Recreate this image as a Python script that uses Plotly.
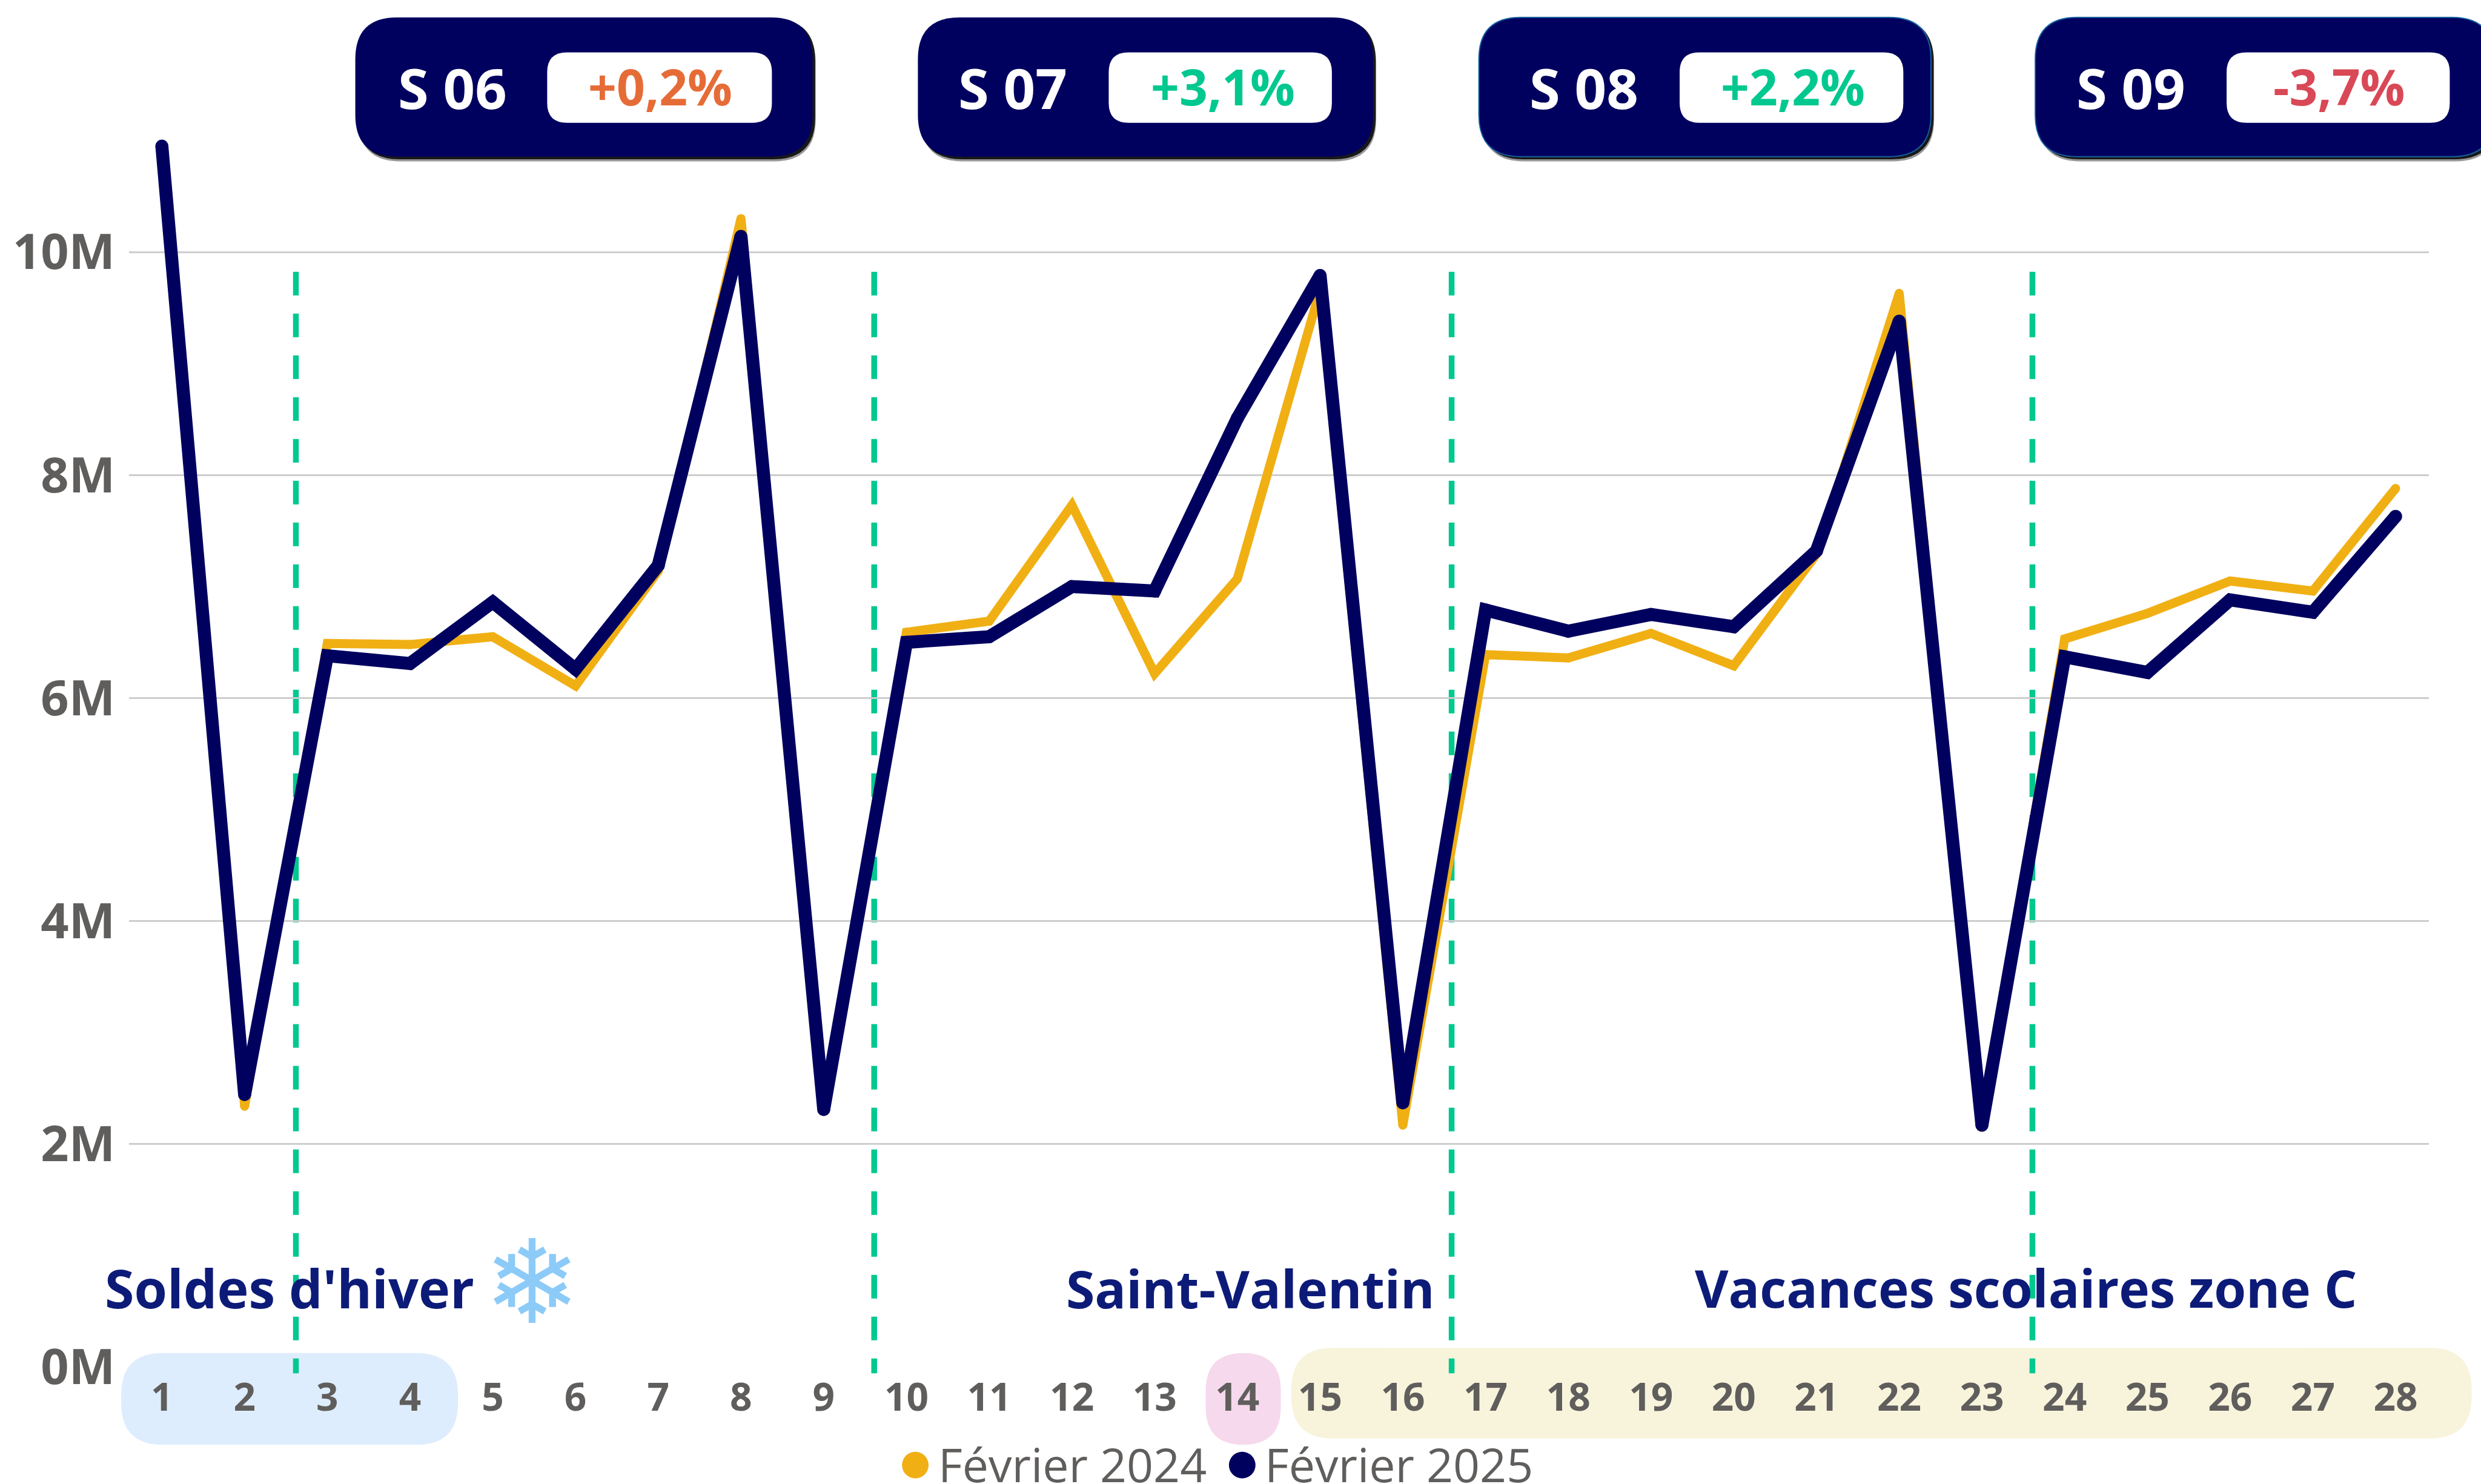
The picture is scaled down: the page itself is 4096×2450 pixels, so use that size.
import plotly.graph_objects as go

# ---- data ----
days = list(range(1, 29))
feb_2024 = [10.9, 2.34, 6.49, 6.48, 6.55, 6.11, 7.14, 10.3, 2.32, 6.59, 6.69, 7.73, 6.22, 7.07,
            9.66, 2.17, 6.39, 6.36, 6.58, 6.29, 7.29, 9.63, 2.15, 6.53, 6.76, 7.05, 6.96, 7.88]
feb_2025 = [10.95, 2.445, 6.38, 6.31, 6.86, 6.26, 7.19, 10.14, 2.31, 6.5, 6.55, 7.0, 6.96, 8.51,
            9.79, 2.37, 6.79, 6.6, 6.75, 6.64, 7.32, 9.38, 2.17, 6.37, 6.23, 6.88, 6.77, 7.63]
series_names = ["Février 2024", "Février 2025"]
y_ticks = [0, 2, 4, 6, 8, 10]
y_labels = ["0M", "2M", "4M", "6M", "8M", "10M"]
week_breaks = [2.62, 9.61, 16.59, 23.61]
week_labels = ["S 06", "S 07", "S 08", "S 09"]
week_deltas = ["+0,2%", "+3,1%", "+2,2%", "-3,7%"]
event_labels = ["Soldes d'hiver", "Saint-Valentin", "Vacances scolaires zone C"]

# ---- geometry (reference pixels, scaled to the window) ----
S = 4096 / 4758
W, H = 4096, 2450
REF_L, REF_R, REF_Y0, REF_PER_M = 247, 4658, 2622, 213.9
Y_MAX = 11.5
REF_T = REF_Y0 - Y_MAX * REF_PER_M
L, R, T, B = REF_L * S, REF_R * S, REF_T * S, REF_Y0 * S
X1, DX = 310, 158.67
x_lo = 1 - (X1 - REF_L) / DX
x_hi = 1 + (REF_R - X1) / DX


def px(x):
    return (x - REF_L) / (REF_R - REF_L)


def py(y):
    return (REF_Y0 - y) / (REF_Y0 - REF_T)


def rrect(x0, y0, x1, y1, r, fill, line=None, layer="above", opacity=1):
    r = min(r, (x1 - x0) / 2, (y1 - y0) / 2)
    p = lambda a, b: f"{px(a):.5f},{py(b):.5f}"
    path = (f"M {p(x0 + r, y0)} L {p(x1 - r, y0)} Q {p(x1, y0)} {p(x1, y0 + r)} "
            f"L {p(x1, y1 - r)} Q {p(x1, y1)} {p(x1 - r, y1)} L {p(x0 + r, y1)} "
            f"Q {p(x0, y1)} {p(x0, y1 - r)} L {p(x0, y0 + r)} Q {p(x0, y0)} {p(x0 + r, y0)} Z")
    return dict(type="path", xref="paper", yref="paper", path=path, fillcolor=fill, opacity=opacity,
                line=dict(color=line or fill, width=2 if line else 0), layer=layer)


NAVY, GOLD, GREY = "#00005F", "#F0B014", "#605E5C"
GREEN, ORANGE, RED = "#01C88F", "#E66C37", "#D94856"
LABEL = "#0D1B78"
FONT = "Open Sans"

shapes, ann = [], []


def text(t, x, y, size, color, weight=700, family=FONT):
    ann.append(dict(text=t, xref="paper", yref="paper", x=px(x), y=py(y), xanchor="center", yanchor="middle",
                    showarrow=False, font=dict(family=family, size=size, color=color, weight=weight)))


# bands behind the axis labels
shapes.append(rrect(232, 2595, 878, 2771, 80, "#DEEDFD", layer="below"))
shapes.append(rrect(2312, 2595, 2456, 2771, 72, "#F6D9EC", layer="below"))
shapes.append(rrect(2476, 2585, 4740, 2759, 80, "#F8F4DC", layer="below"))

# week separators
for b in week_breaks:
    shapes.append(dict(type="line", xref="x", yref="paper", x0=b, x1=b, y0=py(521), y1=py(2634),
                       line=dict(color=GREEN, width=9.5, dash="39px,30px"), layer="between"))

# week pills
pills = [(681, 1558, 1049, 1480, 867, 1266, ORANGE, None),
         (1760, 2633, 2126, 2554, 1942, 2345, GREEN, None),
         (2836, 3703, 3221, 3650, 3037, 3438, GREEN, "#15609F"),
         (3903, 4783, 4270, 4698, 4086, 4485, RED, "#15609F")]
for (x0, x1, ix0, ix1, tx, dx, col, edge), lab, delta in zip(pills, week_labels, week_deltas):
    shapes.append(rrect(x0 + 6, 40, x1 + 6, 309, 80, "#000000", opacity=0.4))
    shapes.append(rrect(x0 + 5, 36, x1 + 5, 305, 80, "#111111", opacity=0.95))
    shapes.append(rrect(x0, 33, x1, 300, 80, NAVY, line=edge))
    shapes.append(rrect(ix0, 100, ix1, 235, 38, "#FFFFFF"))
    text(lab, tx, 167, 92, "#FFFFFF")
    text(delta, dx, 165, 82, col)

# event labels
text(event_labels[0], 555, 2470, 88, LABEL)
text("\u2744", 1020, 2460, 192, "#8CCBF8", weight=400, family="DejaVu Sans")
text(event_labels[1], 2398, 2470, 86, LABEL)
text(event_labels[2], 3885, 2470, 85.5, LABEL)

# legend
for cx, tx, col, name in zip((1755, 2382), (2056, 2682), (GOLD, NAVY), series_names):
    shapes.append(dict(type="circle", xref="paper", yref="paper", x0=px(cx - 25.5), x1=px(cx + 25.5),
                       y0=py(2810 + 25.5), y1=py(2810 - 25.5), fillcolor=col, line=dict(width=0), layer="above"))
    text(name, tx, 2808, 77, GREY, weight=400)

fig = go.Figure()
# markers the width of the line give the round joins and end caps of the reference
fig.add_trace(go.Scatter(x=days, y=feb_2024, name=series_names[0], mode="lines+markers",
                         line=dict(color=GOLD, width=15), marker=dict(color=GOLD, size=15, line=dict(width=0)),
                         showlegend=False, cliponaxis=False))
fig.add_trace(go.Scatter(x=days, y=feb_2025, name=series_names[1], mode="lines+markers",
                         line=dict(color=NAVY, width=21.5), marker=dict(color=NAVY, size=21.5, line=dict(width=0)),
                         showlegend=False, cliponaxis=False))

fig.update_layout(
    width=W, height=H, autosize=False, paper_bgcolor="white", plot_bgcolor="rgba(0,0,0,0)",
    margin=dict(l=L, r=W - R, t=T, b=H - B, pad=0),
    showlegend=False, shapes=shapes, annotations=ann,
    font=dict(family=FONT, color=GREY),
    xaxis=dict(range=[x_lo, x_hi], tickmode="array", tickvals=days, ticktext=[str(d) for d in days],
               showgrid=False, zeroline=False, showline=False, ticks="", ticklabelstandoff=7,
               tickangle=0, tickfont=dict(family=FONT, size=64, color=GREY, weight=700)),
    yaxis=dict(range=[0, Y_MAX], tickmode="array", tickvals=y_ticks, ticktext=y_labels,
               showgrid=True, gridcolor="#CDCDCD", gridwidth=3, zeroline=False, showline=False,
               ticks="", ticklabelstandoff=22, tickfont=dict(family=FONT, size=81, color=GREY, weight=700)),
)

fig.write_html("out.html", config=dict(displayModeBar=False),
               post_script="document.body.style.margin='0';document.body.style.overflow='hidden';")
